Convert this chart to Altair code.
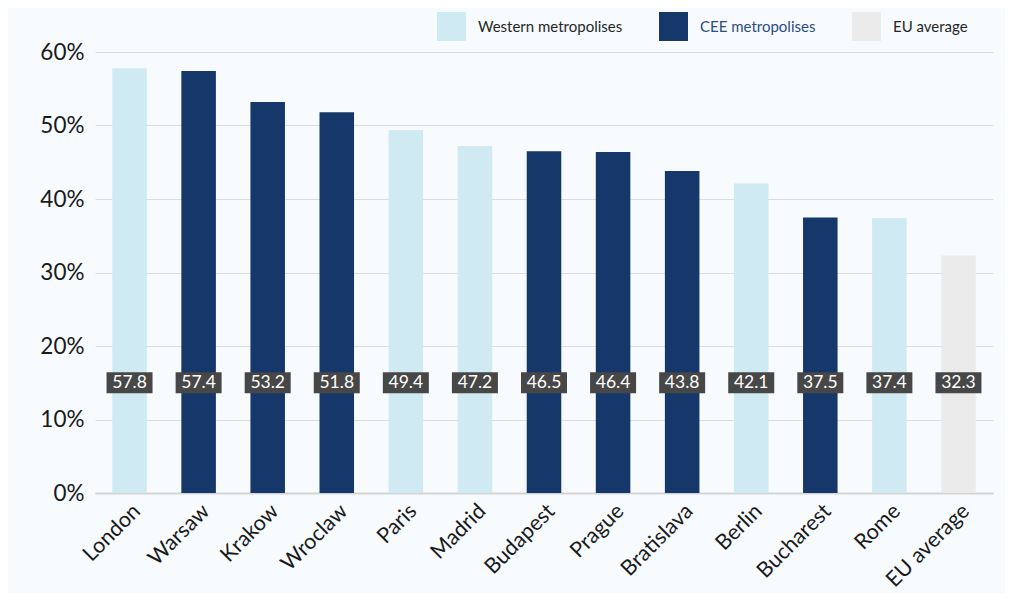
import altair as alt
import pandas as pd

cities = ["London", "Warsaw", "Krakow", "Wroclaw", "Paris", "Madrid", "Budapest",
          "Prague", "Bratislava", "Berlin", "Bucharest", "Rome", "EU average"]
values = [57.8, 57.4, 53.2, 51.8, 49.4, 47.2, 46.5, 46.4, 43.8, 42.1, 37.5, 37.4, 32.3]
groups = ["Western metropolises", "CEE metropolises", "CEE metropolises", "CEE metropolises",
          "Western metropolises", "Western metropolises", "CEE metropolises", "CEE metropolises",
          "CEE metropolises", "Western metropolises", "CEE metropolises", "Western metropolises",
          "EU average"]
group_order = ["Western metropolises", "CEE metropolises", "EU average"]
group_colors = ["#cfeaf2", "#15376a", "#ebebeb"]
label_level = 15

df = pd.DataFrame({"city": cities, "value": values, "group": groups})
df["label"] = df["value"].map(lambda v: f"{v:.1f}")
df["level"] = label_level

FONT = "Lato"

x = alt.X("city:N", sort=cities, title=None,
          scale=alt.Scale(paddingInner=0.5, paddingOuter=0.25),
          axis=alt.Axis(labelAngle=-45, labelAlign="right", labelBaseline="top",
                        labelFontSize=21.5, labelColor="#1a1a1a", labelFont=FONT,
                        ticks=False, domain=True, domainColor="#d4d4d4", domainWidth=2,
                        labelPadding=7))

bars = alt.Chart(df).mark_bar().encode(
    x=x,
    y=alt.Y("value:Q", title=None,
            scale=alt.Scale(domain=[0, 60]),
            axis=alt.Axis(values=[0, 10, 20, 30, 40, 50, 60], labelExpr="datum.value + '%'",
                          labelFontSize=22.5, labelColor="#1a1a1a", labelFont=FONT,
                          ticks=False, domain=False, gridColor="#dcdcdc", gridWidth=1,
                          labelPadding=11)),
    color=alt.Color("group:N", title=None,
                    scale=alt.Scale(domain=group_order, range=group_colors),
                    legend=alt.Legend(orient="none", legendX=342, legendY=-40,
                                      direction="horizontal", symbolType="square",
                                      symbolSize=840, symbolStrokeWidth=0,
                                      labelFontSize=15, labelFont=FONT,
                                      labelColor={"expr": "datum.label == 'CEE metropolises' ? '#2b4c84' : '#262626'"},
                                      columnPadding=36, labelOffset=12)),
)

box_path = "M-1,-0.4565L1,-0.4565L1,0.4565L-1,0.4565Z"
boxes = alt.Chart(df).mark_point(shape=box_path, filled=True, opacity=1, size=2116,
                                 color="#474747", strokeWidth=0).encode(
    x=alt.X("city:N", sort=cities),
    y=alt.Y("level:Q"),
)
texts = alt.Chart(df).mark_text(color="white", fontSize=17.5, font=FONT, baseline="middle").encode(
    x=alt.X("city:N", sort=cities),
    y=alt.Y("level:Q"),
    text="label:N",
)

chart = alt.layer(bars, boxes, texts).properties(
    width=898, height=441,
    background="#f7fbfe",
    padding={"left": 87, "top": 44, "right": 12, "bottom": 100},
    autosize=alt.AutoSizeParams(type="none"),
).configure_view(stroke=None)

chart.save("out.html", embed_options={"renderer": "svg", "actions": False})
